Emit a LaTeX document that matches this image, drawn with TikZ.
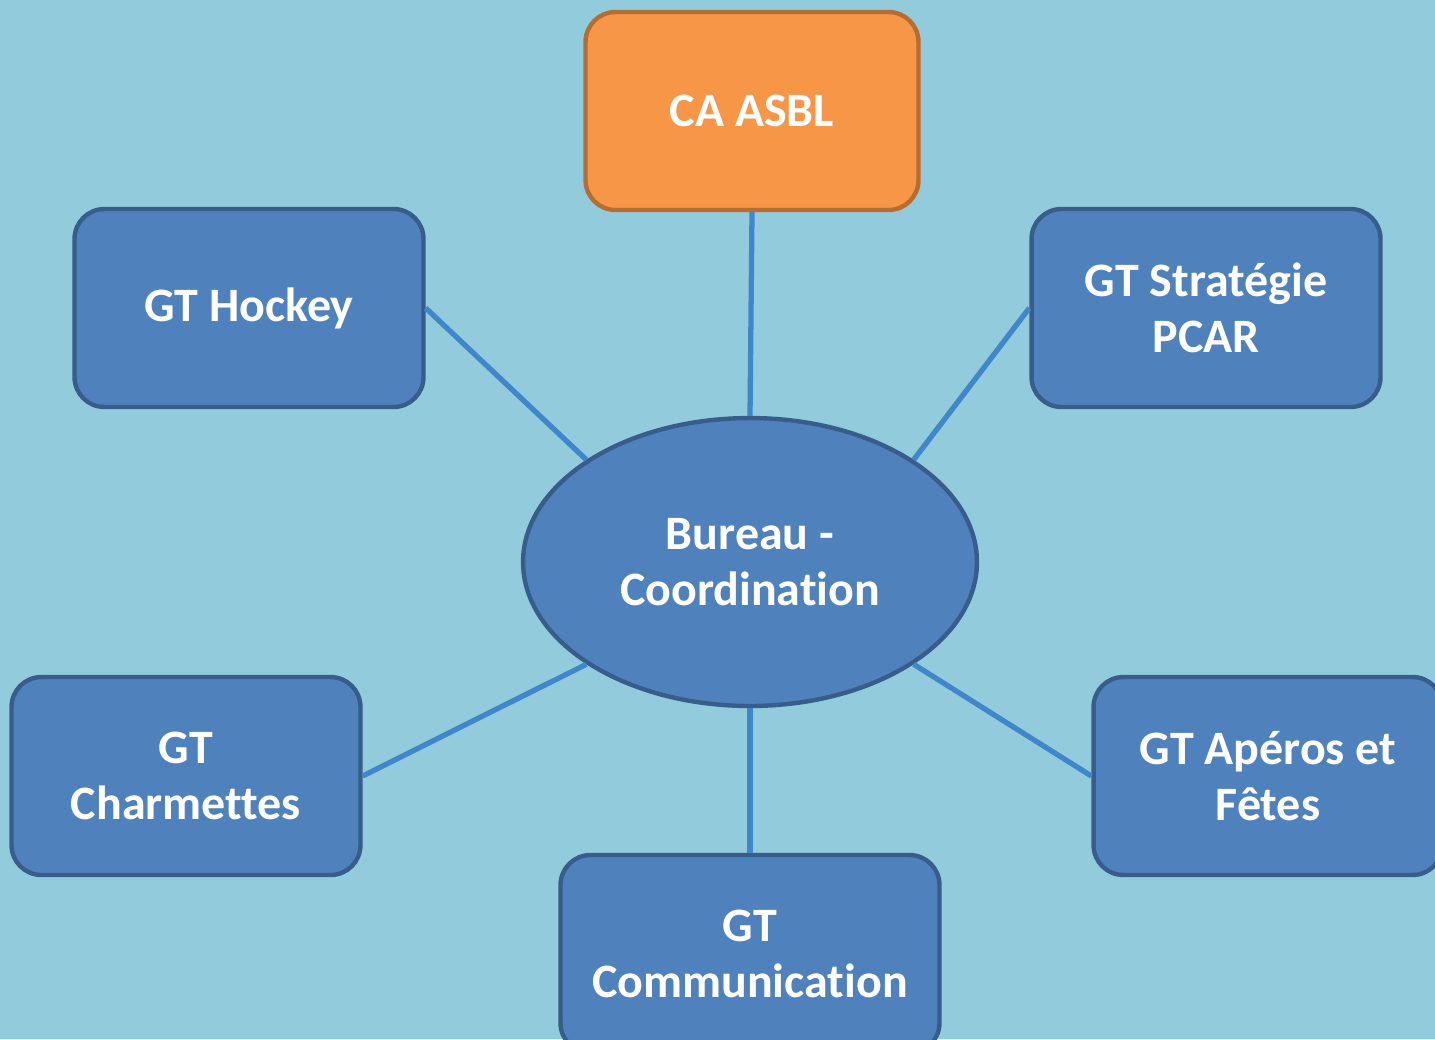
\documentclass[tikz,border=0pt]{standalone}
\usepackage{fontspec}
\setmainfont[Ligatures=NoCommon]{Carlito}
\usepackage{xcolor}
\usetikzlibrary{shapes.geometric,positioning}

\definecolor{skyback}{RGB}{146,203,220}
\definecolor{gtfill}{RGB}{79,129,189}
\definecolor{gtdraw}{RGB}{56,93,138}
\definecolor{cafill}{RGB}{247,150,70}
\definecolor{cadraw}{RGB}{182,109,49}
\definecolor{linkblue}{RGB}{64,134,202}

\begin{document}
\begin{tikzpicture}[
  x=0.02cm, y=-0.02cm,
  gt/.style={rectangle, rounded corners=17pt, draw=gtdraw, line width=2.5pt,
             fill=gtfill, text=white, align=center,
             font=\fontsize{27.3}{32}\selectfont\bfseries,
             minimum width=6.98cm, minimum height=3.96cm},
  ca/.style={gt, draw=cadraw, fill=cafill, minimum width=6.66cm},
  hub/.style={ellipse, draw=gtdraw, line width=2.5pt, fill=gtfill,
              text=white, align=center, inner sep=0pt,
              font=\fontsize{27.3}{32}\selectfont\bfseries,
              minimum width=9.08cm, minimum height=5.76cm},
  link/.style={line width=3pt, linkblue}
]

%% Background and page frame
\fill[skyback] (0,0) rectangle (1435,1039);
\useasboundingbox (0,0) rectangle (1435,1039);
\clip (0,0) rectangle (1435,1039);

%% Nodes
\node[hub] (bureau) at (750,562) {Bureau -\\Coordination};
\node[ca]  (ca)     at (752,111) {CA ASBL};
\node[gt]  (hockey) at (249,308) {GT Hockey};
\node[gt]  (pcar)   at (1206,308) {GT Stratégie\\PCAR};
\node[gt]  (charm)  at (186,776) {GT\\Charmettes};
\node[gt]  (aperos) at (1268,776) {GT Apéros et\\Fêtes};
\node[gt, minimum width=7.58cm] (comm) at (750,954) {GT\\Communication};

%% Links to the hub
\draw[link] (bureau.north) -- (ca.south);
\draw[link] (bureau.148)   -- (hockey.east);
\draw[link] (bureau.32)    -- (pcar.west);
\draw[link] (bureau.212)   -- (charm.east);
\draw[link] (bureau.328)   -- (aperos.west);
\draw[link] (bureau.south) -- (comm.north);

\end{tikzpicture}
\end{document}
